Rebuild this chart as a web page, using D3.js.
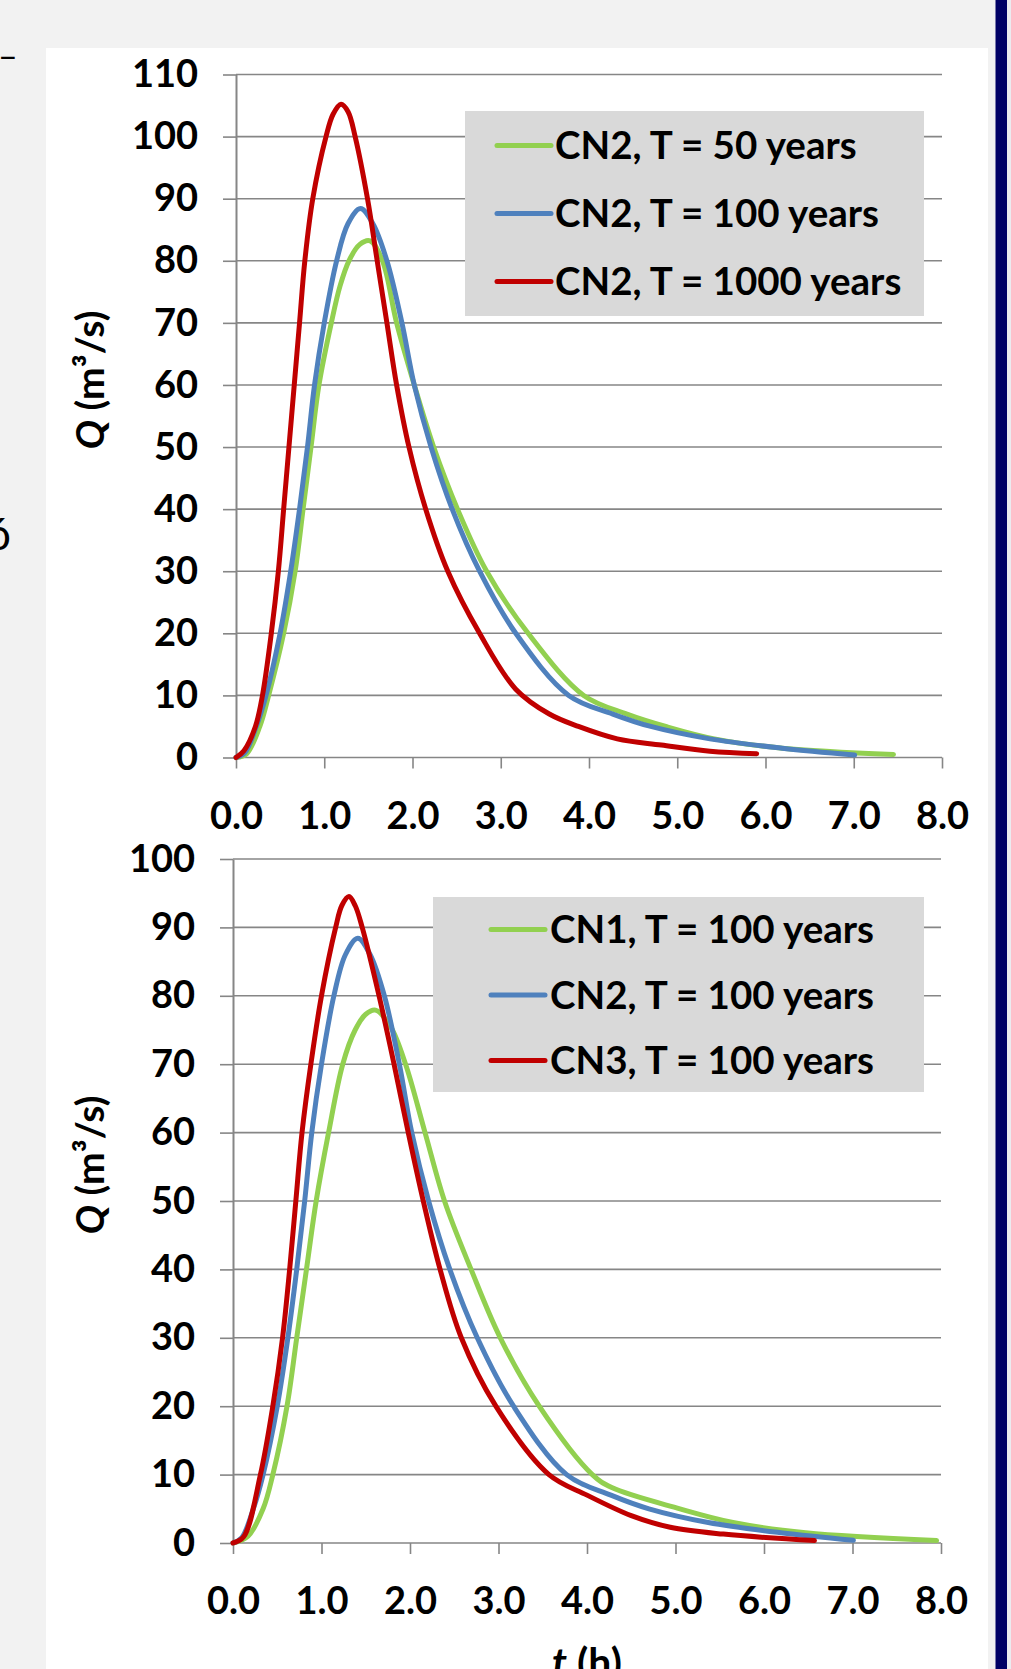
<!DOCTYPE html>
<html>
<head>
<meta charset="utf-8">
<script src="https://cdn.jsdelivr.net/npm/d3@7"></script>
<style>
  html, body { margin: 0; padding: 0; background: #f2f2f2; }
  svg { display: block; }
  text { font-family: Lato, "Open Sans", sans-serif; font-weight: 700; fill: #000; }
</style>
</head>
<body>
<svg id="chart" width="1011" height="1669"></svg>
<script>
// ---- data (t in h, Q in m3/s) ----
const xTicks = [0, 1, 2, 3, 4, 5, 6, 7, 8];
const yTicksTop = [0, 10, 20, 30, 40, 50, 60, 70, 80, 90, 100, 110];
const yTicksBottom = [0, 10, 20, 30, 40, 50, 60, 70, 80, 90, 100];

// CN2, T = 50 years
const tCN2T50 = [0, 0.12, 0.27, 0.37, 0.54, 0.67, 0.76, 0.85, 0.94, 1.08, 1.18, 1.28, 1.4, 1.52, 1.66, 1.82, 2.02, 2.24, 2.51, 2.84, 3.31, 3.94, 4.43, 4.87, 5.42, 6.19, 7.45];
const qCN2T50 = [0, 0.6, 5, 10, 20, 30, 40, 50, 60, 70, 76, 80, 82.6, 83.2, 80, 70, 60, 50, 40, 30, 20, 10, 7, 5, 3, 1.5, 0.5];

// CN2, T = 100 years (same series in both panels)
const tCN2T100 = [0, 0.1, 0.23, 0.34, 0.5, 0.62, 0.72, 0.81, 0.89, 1.0, 1.14, 1.27, 1.41, 1.55, 1.71, 1.88, 2.02, 2.21, 2.45, 2.76, 3.17, 3.77, 4.27, 4.7, 5.37, 6.19, 7.01];
const qCN2T100 = [0, 0.8, 5, 10, 20, 30, 40, 50, 60, 70, 80, 86, 88.4, 86, 80, 70, 60, 50, 40, 30, 20, 10, 7, 5, 3, 1.5, 0.4];

// CN2, T = 1000 years
const tCN2T1000 = [0, 0.09, 0.22, 0.3, 0.4, 0.48, 0.54, 0.6, 0.66, 0.72, 0.78, 0.87, 1.02, 1.1, 1.19, 1.27, 1.35, 1.49, 1.6, 1.71, 1.82, 1.96, 2.15, 2.4, 2.76, 3.17, 3.55, 3.88, 4.32, 4.82, 5.37, 5.9];
const qCN2T1000 = [0, 1.1, 5, 10, 20, 30, 40, 50, 60, 70, 80, 90, 100, 103.6, 105.2, 104, 100, 90, 80, 70, 60, 50, 40, 30, 20, 11, 7, 5, 3, 2, 1, 0.6];

// CN1, T = 100 years
const tCN1T100 = [0, 0.17, 0.34, 0.45, 0.61, 0.72, 0.83, 0.94, 1.08, 1.24, 1.38, 1.5, 1.61, 1.78, 1.95, 2.17, 2.39, 2.69, 3.02, 3.46, 4.06, 4.28, 5.05, 5.65, 6.47, 7.95];
const qCN1T100 = [0, 1, 5, 10, 20, 30, 40, 50, 60, 70, 75, 77.3, 77.9, 75.5, 70, 60, 50, 40, 30, 20, 10, 8.1, 5, 3, 1.5, 0.35];

// CN3, T = 100 years
const tCN3T100 = [0, 0.12, 0.31, 0.45, 0.56, 0.64, 0.71, 0.78, 0.88, 1.0, 1.16, 1.23, 1.31, 1.38, 1.46, 1.65, 1.82, 1.98, 2.15, 2.34, 2.58, 2.97, 3.57, 4.0, 4.5, 4.94, 5.54, 6.57];
const qCN3T100 = [0, 0.9, 10, 20, 30, 40, 50, 60, 70, 80, 90, 93.2, 94.5, 93.2, 90, 80, 70, 60, 50, 40, 30, 20, 10, 7, 4, 2.3, 1.3, 0.35];

const namesTop = ["CN2, T = 50 years", "CN2, T = 100 years", "CN2, T = 1000 years"];
const namesBottom = ["CN1, T = 100 years", "CN2, T = 100 years", "CN3, T = 100 years"];
const colors = ["#92d050", "#4f81bd", "#c00000"];

const GRID = "#868686";
const svg = d3.select("#chart");

// page furniture
svg.append("rect").attr("x", 0).attr("y", 0).attr("width", 1011).attr("height", 1669).attr("fill", "#f2f2f2");
svg.append("rect").attr("x", 46).attr("y", 48).attr("width", 942).attr("height", 1621).attr("fill", "#ffffff");
svg.append("rect").attr("x", 995.5).attr("y", 0).attr("width", 11.5).attr("height", 1669).attr("fill", "#000066");
svg.append("rect").attr("x", 1007).attr("y", 0).attr("width", 4).attr("height", 1669).attr("fill", "#ebebf0");
// cut-off text from the surrounding page
svg.append("text").attr("x", -2).attr("y", 68).attr("font-size", 34).style("font-weight", 400).text("–");
svg.append("text").attr("x", -14).attr("y", 550).attr("font-size", 44).style("font-weight", 400).text("ó");

function drawPanel(cfg) {
  const x = d3.scaleLinear().domain([0, 8]).range([cfg.left, cfg.right]);
  const y = d3.scaleLinear().domain([0, cfg.yMax]).range([cfg.bottom, cfg.top]);
  const g = svg.append("g");

  // horizontal gridlines
  g.append("g").selectAll("line").data(cfg.yTicks).join("line")
    .attr("x1", cfg.left).attr("x2", cfg.right)
    .attr("y1", d => y(d)).attr("y2", d => y(d))
    .attr("stroke", GRID).attr("stroke-width", 1.6);

  const yAxis = g.append("g")
    .attr("transform", `translate(${cfg.left},0)`)
    .call(d3.axisLeft(y).tickValues(cfg.yTicks).tickSize(13).tickSizeOuter(0).tickPadding(25).tickFormat(d3.format("d")));
  yAxis.select(".domain").attr("stroke", GRID).attr("stroke-width", 2);
  yAxis.selectAll(".tick line").attr("stroke", GRID).attr("stroke-width", 1.6);
  yAxis.selectAll(".tick text").attr("font-size", 38);

  const xAxis = g.append("g")
    .attr("transform", `translate(0,${cfg.bottom})`)
    .call(d3.axisBottom(x).tickValues(xTicks).tickSize(11).tickSizeOuter(0).tickFormat(d3.format(".1f")));
  xAxis.select(".domain").remove();
  xAxis.selectAll(".tick line").attr("stroke", GRID).attr("stroke-width", 1.6);
  xAxis.selectAll(".tick text").attr("font-size", 38).attr("y", 71).attr("dy", null);

  const line = d3.line()
    .x(d => x(d[0]))
    .y(d => y(Math.max(0, d[1])))
    .curve(d3.curveCatmullRom.alpha(0.5));

  g.append("g").selectAll("path").data(cfg.series).join("path")
    .attr("d", d => line(d3.zip(d.t, d.q)))
    .attr("fill", "none")
    .attr("stroke", (d, i) => colors[i])
    .attr("stroke-width", 5)
    .attr("stroke-linejoin", "round")
    .attr("stroke-linecap", "round");

  // legend
  const L = cfg.legend;
  const lg = g.append("g");
  lg.append("rect").attr("x", L.x0).attr("y", L.y0).attr("width", L.x1 - L.x0).attr("height", L.y1 - L.y0).attr("fill", "#d9d9d9");
  const rows = lg.selectAll("g").data(cfg.series).join("g")
    .attr("transform", (d, i) => `translate(0,${L.rows[i]})`);
  rows.append("line").attr("x1", L.lx0).attr("x2", L.lx1).attr("y1", 0).attr("y2", 0)
    .attr("stroke", (d, i) => colors[i]).attr("stroke-width", 5).attr("stroke-linecap", "round");
  rows.append("text").attr("x", L.tx).attr("y", 13.5).attr("font-size", 38.5).text(d => d.name);

  // y title
  const yt = g.append("text")
    .attr("transform", `translate(${cfg.yTitleX},${cfg.yTitleY}) rotate(-90)`)
    .attr("text-anchor", "middle").attr("font-size", 39);
  yt.append("tspan").style("font-style", "italic").text("Q");
  yt.append("tspan").text(" (m³/s)");

  return { x, y };
}

const topPanel = drawPanel({
  left: 236, right: 942, top: 74.5, bottom: 757.5, yMax: 110, yTicks: yTicksTop,
  series: [
    { name: namesTop[0], t: tCN2T50, q: qCN2T50 },
    { name: namesTop[1], t: tCN2T100, q: qCN2T100 },
    { name: namesTop[2], t: tCN2T1000, q: qCN2T1000 }
  ],
  legend: { x0: 465, y0: 111, x1: 924, y1: 316, lx0: 497, lx1: 551, tx: 555, rows: [145.5, 213.5, 281.5] },
  yTitleX: 104, yTitleY: 380
});

const bottomPanel = drawPanel({
  left: 233, right: 941, top: 859, bottom: 1543, yMax: 100, yTicks: yTicksBottom,
  series: [
    { name: namesBottom[0], t: tCN1T100, q: qCN1T100 },
    { name: namesBottom[1], t: tCN2T100, q: qCN2T100 },
    { name: namesBottom[2], t: tCN3T100, q: qCN3T100 }
  ],
  legend: { x0: 433, y0: 897, x1: 924, y1: 1092, lx0: 491, lx1: 545, tx: 550, rows: [929.5, 995, 1060.5] },
  yTitleX: 104, yTitleY: 1165
});

// x title (partly cut by the page edge)
const xt = svg.append("text").attr("x", 587).attr("y", 1677).attr("text-anchor", "middle").attr("font-size", 41);
xt.append("tspan").style("font-style", "italic").text("t");
xt.append("tspan").text(" (h)");
</script>
</body>
</html>
